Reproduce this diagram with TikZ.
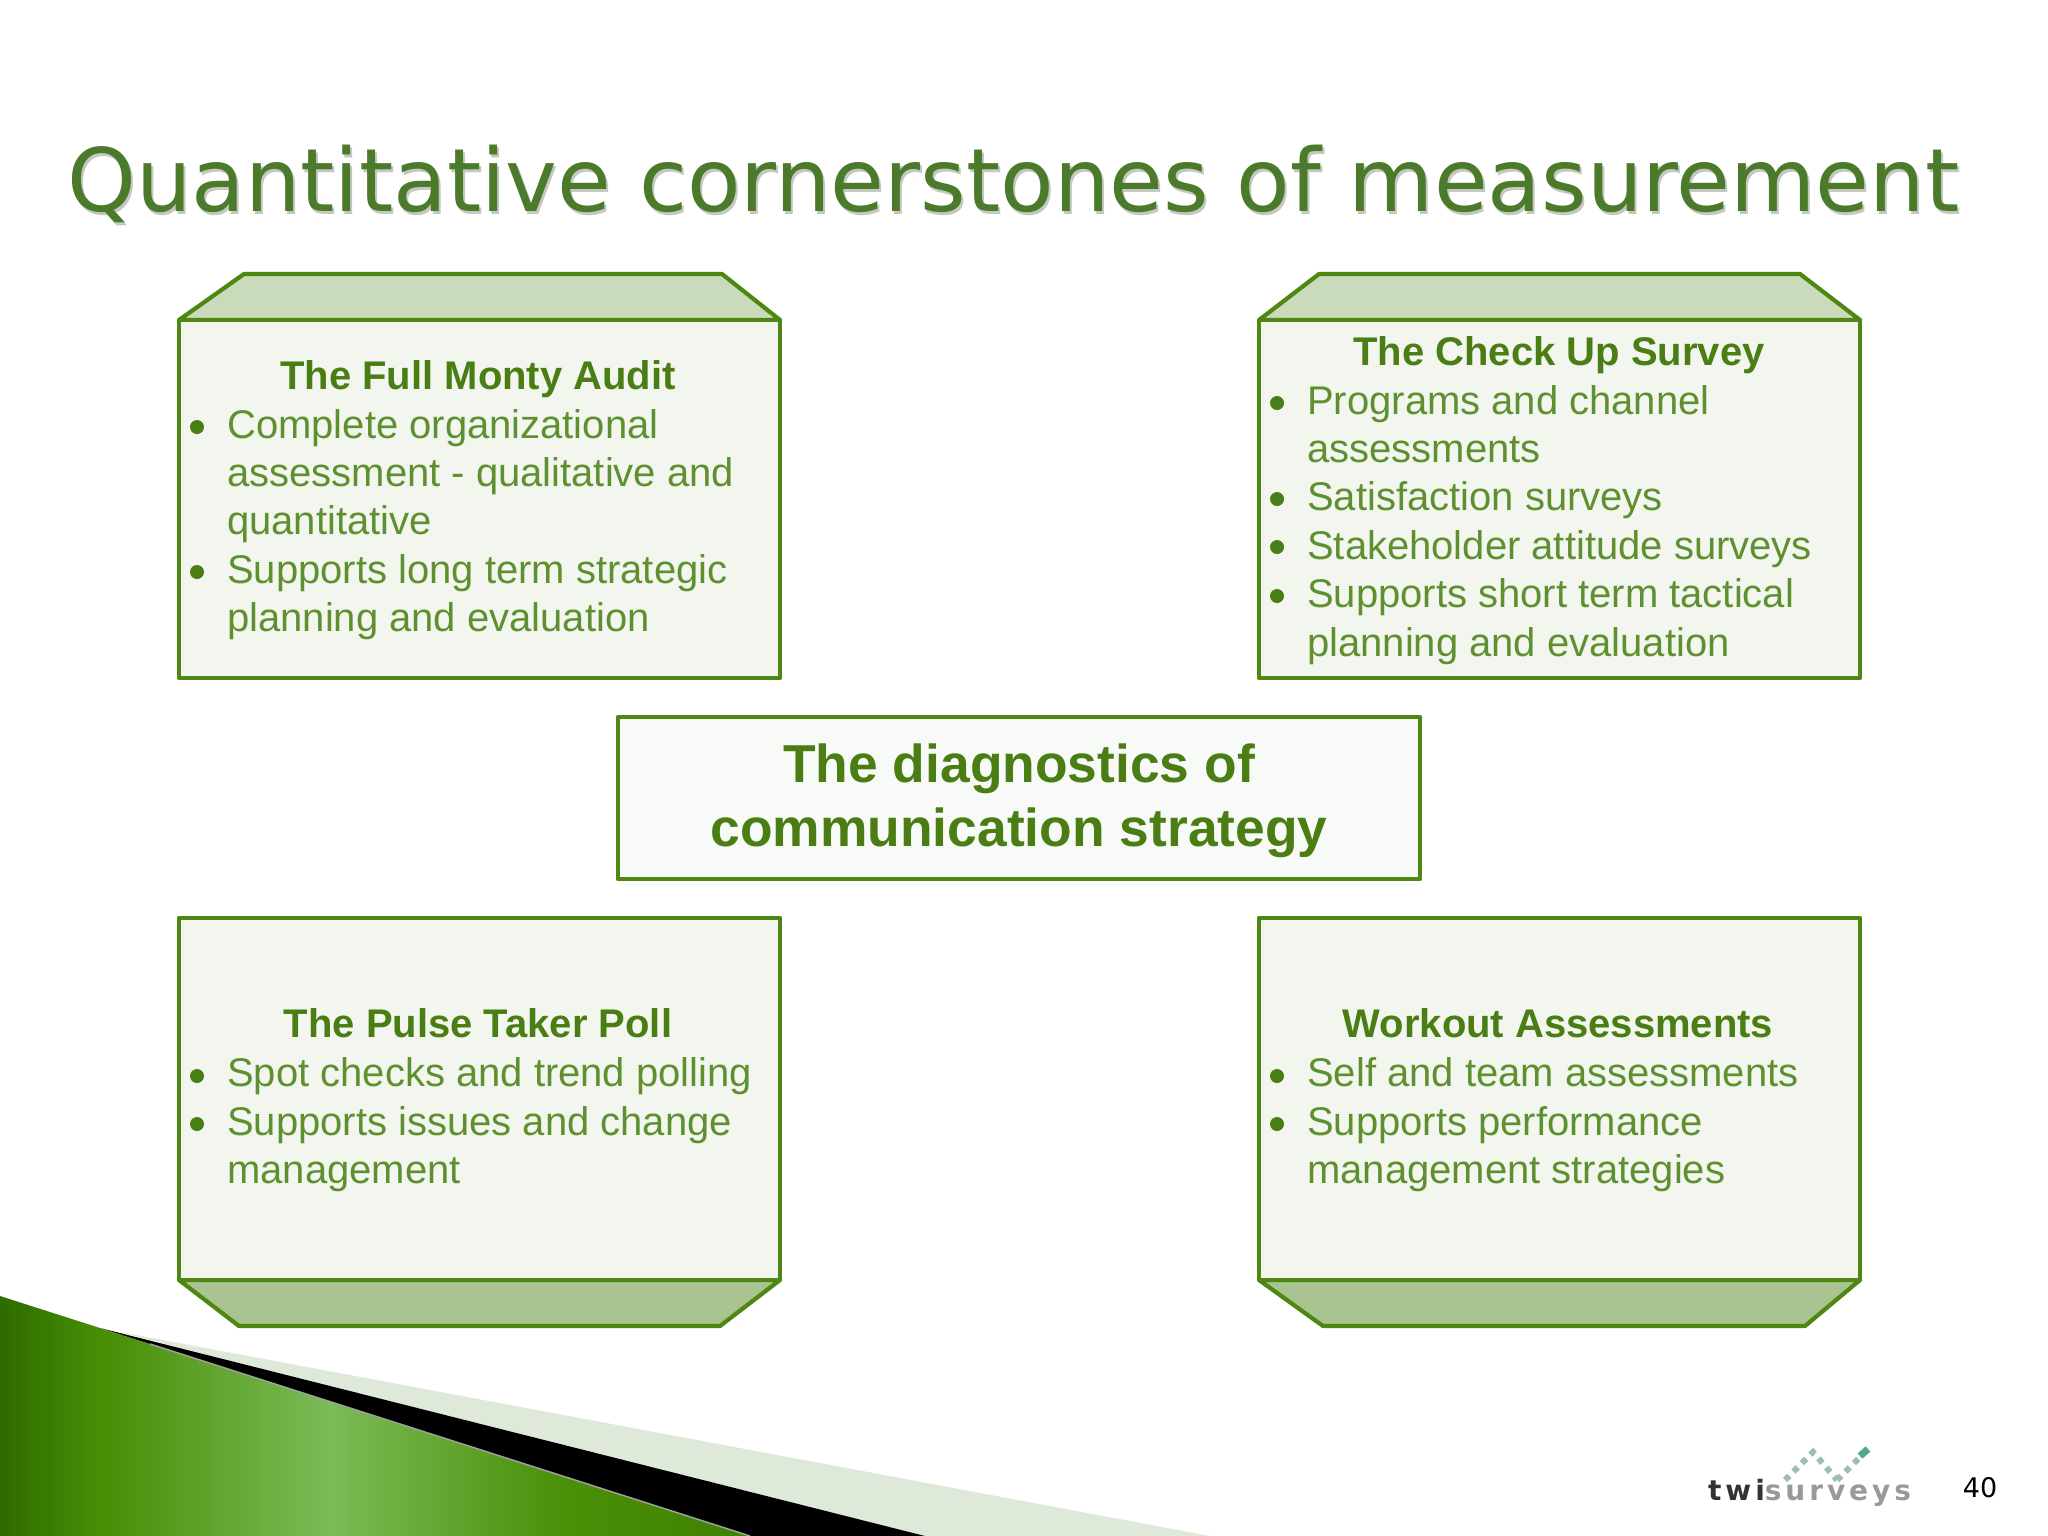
\documentclass[tikz,border=0pt]{standalone}
\usepackage{fontspec}
\setmainfont{Liberation Sans}
\newfontfamily\titlefont{DejaVu Sans}
\newfontfamily\logofont[LetterSpace=14]{DejaVu Sans}
\definecolor{linegreen}{HTML}{4F8713}
\definecolor{boxfill}{HTML}{F2F6EF}
\definecolor{topface}{HTML}{C9DBBB}
\definecolor{botface}{HTML}{A9C491}
\definecolor{headtext}{HTML}{4A7E14}
\definecolor{bodytext}{HTML}{5F9030}
\definecolor{titlegreen}{HTML}{4A7A2A}
\definecolor{titleshadow}{HTML}{C4C8C0}
\definecolor{paleband}{HTML}{DFE9DA}
\definecolor{dotgreen}{HTML}{9DBEB0}
\definecolor{dotdark}{HTML}{52A68B}
\definecolor{w0}{HTML}{2E6B00}
\definecolor{w1}{HTML}{468D04}
\definecolor{w2}{HTML}{7CBB57}
\definecolor{w3}{HTML}{4A9008}
\definecolor{w4}{HTML}{3F8000}
\pgfdeclarehorizontalshading{wedgeshade}{100bp}{
 color(0bp)=(w0);
 color(25bp)=(w0);
 color(31.5bp)=(w1);
 color(47bp)=(w2);
 color(62.5bp)=(w3);
 color(75bp)=(w4);
 color(100bp)=(w4)}
\tikzset{
 frame/.style={draw=linegreen,line width=4.2pt,line join=round},
 head/.style={anchor=base,inner sep=0pt,font=\fontsize{40}{46}\selectfont\bfseries,text=headtext},
 body/.style={anchor=base west,inner sep=0pt,font=\fontsize{40}{46}\selectfont,text=bodytext},
 blt/.style={circle,fill=headtext,inner sep=0pt,minimum size=14pt},
 centertext/.style={anchor=base,inner sep=0pt,font=\fontsize{53.4}{60}\selectfont\bfseries,text=headtext},
}
\begin{document}
\begin{tikzpicture}[x=1pt,y=-1pt]
\useasboundingbox (0,0) rectangle (2048,1536);
\fill[white] (0,0) rectangle (2048,1536);
% title
\node[anchor=base west,inner sep=0pt,font=\titlefont\fontsize{87.5}{96}\selectfont,text=titleshadow] (titleS) at (69,214) {Quantitative cornerstones of measurement};
\node[anchor=base west,inner sep=0pt,font=\titlefont\fontsize{87.5}{96}\selectfont,text=titlegreen] (title) at (67,211) {Quantitative cornerstones of measurement};
% swoosh
\fill[paleband] (120,1332) -- (1210,1536) -- (900,1536) -- cycle;
\fill[black] (100,1328) -- (925,1536) -- (745,1536) -- cycle;
\path[shading=wedgeshade] (0,1296) -- (100,1328) -- (750,1536) -- (0,1536) -- cycle;
\draw[paleband!70!black,line width=1.5pt] (150,1344) -- (750,1536);
% box 1
\draw[frame,fill=topface] (179,320) -- (244,274) -- (722,274) -- (780,320) -- cycle;
\draw[frame,fill=boxfill] (179,320) rectangle (780,678);
\node[head] (a0) at (478,389.5) {The Full Monty Audit};
\node[blt] (ab1) at (197,427) {};
\node[body] (a1) at (227,438.5) {Complete organizational};
\node[body] (a2) at (227,486.5) {assessment - qualitative and};
\node[body] (a3) at (227,534.5) {quantitative};
\node[blt] (ab2) at (197,572) {};
\node[body] (a4) at (227,583.5) {Supports long term strategic};
\node[body] (a5) at (227,631.5) {planning and evaluation};
% box 2
\draw[frame,fill=topface] (1259,320) -- (1319,274) -- (1800,274) -- (1860,320) -- cycle;
\draw[frame,fill=boxfill] (1259,320) rectangle (1860,678);
\node[head] (b0) at (1559,365.5) {The Check Up Survey};
\node[blt] (bb1) at (1277,403) {};
\node[body] (b1) at (1307,414.5) {Programs and channel};
\node[body] (b2) at (1307,462.5) {assessments};
\node[blt] (bb2) at (1277,499) {};
\node[body] (b3) at (1307,510.5) {Satisfaction surveys};
\node[blt] (bb3) at (1277,547) {};
\node[body] (b4) at (1307,559) {Stakeholder attitude surveys};
\node[blt] (bb4) at (1277,596) {};
\node[body] (b5) at (1307,607.5) {Supports short term tactical};
\node[body] (b6) at (1307,656) {planning and evaluation};
% centre
\draw[frame,fill=boxfill!50!white] (618,717) rectangle (1420,879);
\node[centertext] (c1) at (1019,782) {The diagnostics of};
\node[centertext] (c2) at (1019,846) {communication strategy};
% box 3
\draw[frame,fill=botface] (179,1280) -- (239,1326) -- (720,1326) -- (780,1280) -- cycle;
\draw[frame,fill=boxfill] (179,918) rectangle (780,1280);
\node[head] (d0) at (478,1037.5) {The Pulse Taker Poll};
\node[blt] (db1) at (197,1076) {};
\node[body] (d1) at (227,1086.5) {Spot checks and trend polling};
\node[blt] (db2) at (197,1124) {};
\node[body] (d2) at (227,1135) {Supports issues and change};
\node[body] (d3) at (227,1183.5) {management};
% box 4
\draw[frame,fill=botface] (1259,1280) -- (1323,1326) -- (1805,1326) -- (1860,1280) -- cycle;
\draw[frame,fill=boxfill] (1259,918) rectangle (1860,1280);
\node[head] (e0) at (1558,1037.5) {Workout Assessments};
\node[blt] (eb1) at (1277,1076) {};
\node[body] (e1) at (1307,1086.5) {Self and team assessments};
\node[blt] (eb2) at (1277,1124) {};
\node[body] (e2) at (1307,1135) {Supports performance};
\node[body] (e3) at (1307,1183.5) {management strategies};
% logo
\draw[dotgreen,line width=6pt,dash pattern=on 6pt off 6pt] (1785,1480) -- (1813,1452) -- (1837,1480);
\draw[dotgreen,line width=6pt,dash pattern=on 6pt off 6pt] (1837,1480) -- (1867,1450);
\draw[dotdark,line width=7pt] (1860,1456) -- (1868,1449);
\node[anchor=base west,inner sep=0pt,font=\logofont\bfseries\fontsize{28}{32}\selectfont] (logo) at (1708,1500) {\textcolor{black!80}{twi}\textcolor{black!40}{surveys}};
\node[anchor=base,inner sep=0pt,font=\titlefont\fontsize{27}{30}\selectfont,text=black] (num) at (1980,1497) {40};
\end{tikzpicture}
\end{document}
